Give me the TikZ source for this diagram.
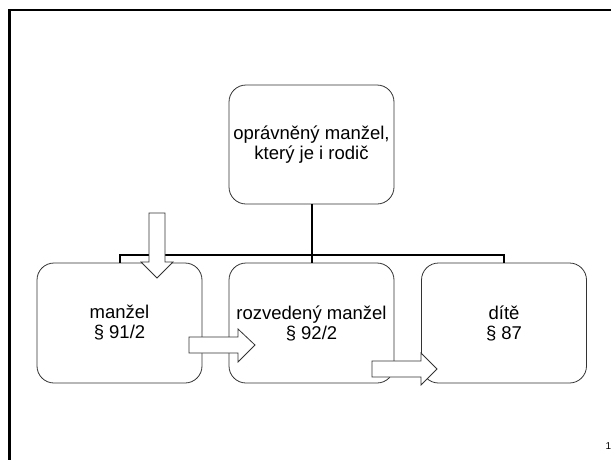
\documentclass[tikz,border=0pt]{standalone}
\usepackage{fontspec}
\setmainfont{Liberation Sans}
\begin{document}
\begin{tikzpicture}[x=1pt,y=-1pt,
    box/.style={draw=black!80, line width=0.8pt, rounded corners=17pt, fill=white,
                minimum width=165pt, minimum height=120pt, align=center,
                font=\fontsize{18.5}{20}\selectfont},
    link/.style={line width=2pt, black},
    blockarrow/.style={draw=black!80, line width=0.8pt, fill=white, line join=miter}]

\useasboundingbox (0,0) rectangle (611,459);

% Slide frame
\draw[line width=2.8pt] (9.5,470) -- (9.5,10) -- (620,10);

% Boxes
\node[box, minimum height=119pt] (parent) at (311.5,144.5) {oprávněný manžel,\\který je i rodič};
\node[box] (manzel) at (119.5,323) {manžel\\§ 91/2};
\node[box] (rozvedeny) at (311.5,323) {rozvedený manžel\\§ 92/2};
\node[box] (dite) at (504,323) {dítě\\§ 87};

% Tree connectors
\coordinate (hub) at (parent.south |- 0,255);
\draw[link] (parent.south) -- (rozvedeny.north);
\draw[link] (manzel.north) |- (hub) -| (dite.north);

% Block arrows
\draw[blockarrow] (149,213) -- (165,213) -- (165,262) -- (173,262) -- (157,278)
    -- (141,262) -- (149,262) -- cycle;
\draw[blockarrow] (189,337) -- (238,337) -- (238,329) -- (255,345) -- (238,362)
    -- (238,353) -- (189,353) -- cycle;
\draw[blockarrow] (372,361) -- (421,361) -- (421,353) -- (437,369) -- (421,385)
    -- (421,377) -- (372,377) -- cycle;

% Page number
\node[anchor=base west, inner sep=0pt, font=\fontsize{10}{11}\selectfont] (pagenum) at (605.5,449) {1};

\end{tikzpicture}
\end{document}
